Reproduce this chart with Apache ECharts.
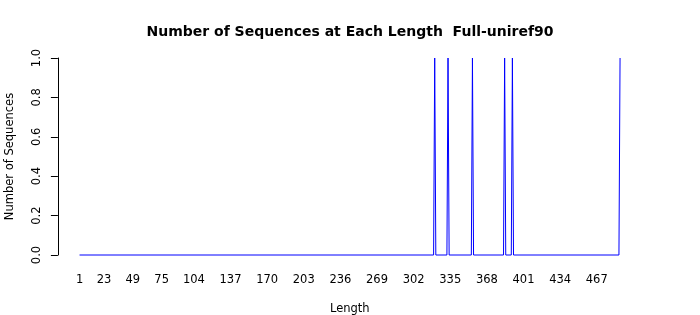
<!DOCTYPE html>
<html>
<head>
<meta charset="utf-8">
<script src="https://cdn.jsdelivr.net/npm/echarts@6/dist/echarts.min.js"></script>
<style>html,body{margin:0;padding:0;background:#fff}#c{width:700px;height:315px}</style>
</head>
<body>
<div id="c"></div>
<script>
const titleText = 'Number of Sequences at Each Length  Full-uniref90';
const lengths = [1, 320, 321, 322, 332, 333, 334, 354, 355, 356, 383, 384, 385, 390, 391, 392, 487, 488];
const counts  = [0, 0, 1, 0, 0, 1, 0, 0, 1, 0, 0, 1, 0, 0, 1, 0, 0, 1];
const xTickLabels = [1, 23, 49, 75, 104, 137, 170, 203, 236, 269, 302, 335, 368, 401, 434, 467];
const yTicks = [0, 0.2, 0.4, 0.6, 0.8, 1.0];

const font = 'DejaVu Sans';
const chart = echarts.init(document.getElementById('c'), null, {renderer: 'canvas'});
chart.setOption({
  animation: false,
  backgroundColor: '#ffffff',
  title: {
    text: titleText,
    left: 'center',
    top: 20,
    textStyle: {fontFamily: font, fontSize: 14, fontWeight: 'bold', color: '#000'}
  },
  grid: {left: 57.9, right: 58.3, top: 58, bottom: 60, containLabel: false, outerBoundsMode: 'none'},
  xAxis: {
    type: 'value',
    min: -18.5,
    max: 507.5,
    name: 'Length',
    nameLocation: 'middle',
    nameGap: 48,
    nameTextStyle: {fontFamily: font, fontSize: 11.5, color: '#000'},
    axisLine: {show: false, onZero: false},
    axisTick: {show: false},
    splitLine: {show: false},
    axisLabel: {
      customValues: xTickLabels,
      margin: 19,
      fontFamily: font, fontSize: 11.5, color: '#000'
    }
  },
  yAxis: {
    type: 'value',
    min: 0,
    max: 1,
    interval: 0.2,
    name: 'Number of Sequences',
    nameLocation: 'middle',
    nameGap: 42,
    nameRotate: 90,
    nameTextStyle: {fontFamily: font, fontSize: 11.5, color: '#000'},
    axisLine: {show: true, onZero: false, lineStyle: {color: '#000', width: 1}},
    axisTick: {show: true, length: 7, lineStyle: {color: '#000', width: 1}},
    splitLine: {show: false},
    axisLabel: {
      rotate: 90,
      margin: 15,
      fontFamily: font, fontSize: 11.5, color: '#000',
      formatter: v => v.toFixed(1)
    }
  },
  series: [{
    type: 'line',
    data: lengths.map((l, i) => [l, counts[i]]),
    showSymbol: false,
    symbol: 'none',
    clip: false,
    lineStyle: {color: '#0000ff', width: 1},
    silent: true
  }]
});
</script>
</body>
</html>
